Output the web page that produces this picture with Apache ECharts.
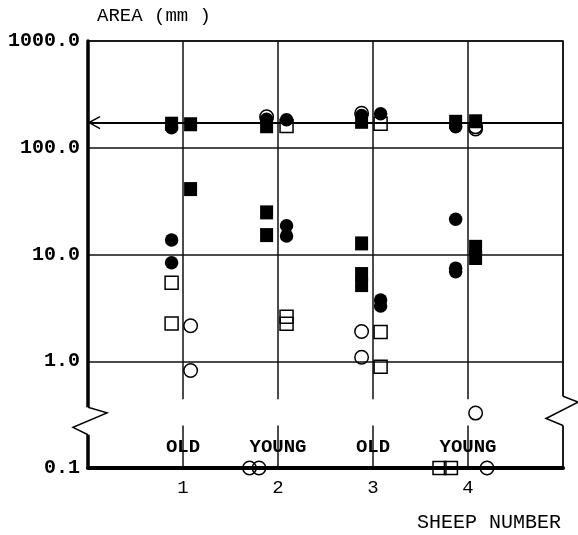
<!DOCTYPE html>
<html>
<head>
<meta charset="utf-8">
<title>Area by sheep number</title>
<script src="https://cdn.jsdelivr.net/npm/echarts@6/dist/echarts.min.js"></script>
<style>
  html, body { margin: 0; padding: 0; background: #fff; }
  #chart { width: 578px; height: 535px; }
</style>
</head>
<body>
<div id="chart"></div>
<script>
// sheep on the x axis, age group written above each
var sheepNumbers = [1, 2, 3, 4];
var ageGroups = ['OLD', 'YOUNG', 'OLD', 'YOUNG'];
var yTickLabels = ['0.1', '1.0', '10.0', '100.0', '1000.0'];
var arrowLevel = 172;

// [sheep position, area mm2]  (left group ~ -0.12, right group ~ +0.08)
var filledSquares = [
  [0.88, 168], [1.08, 166], [1.08, 41],
  [1.88, 159], [1.88, 24.8], [1.88, 15.2],
  [2.88, 175], [2.88, 12.7], [2.88, 6.56], [2.88, 5.17],
  [3.87, 175], [4.08, 177], [4.08, 11.8], [4.08, 9.27]
];
var filledCircles = [
  [0.88, 154], [0.88, 13.7], [0.88, 8.38],
  [1.88, 185], [2.09, 183], [2.09, 18.6], [2.09, 14.9],
  [2.88, 200], [3.08, 208], [3.08, 3.75], [3.08, 3.3],
  [3.87, 157], [3.87, 21.4], [3.87, 7.45], [3.87, 6.89]
];
var openSquares = [
  [0.88, 5.44], [0.88, 2.26],
  [2.09, 160], [2.09, 2.61], [2.09, 2.24],
  [3.08, 168], [3.08, 1.88], [3.08, 0.89],
  [3.70, 0.1], [3.82, 0.1]
];
var openCircles = [
  [1.08, 2.15], [1.08, 0.82],
  [1.88, 195], [1.70, 0.1], [1.80, 0.1],
  [2.88, 210], [2.88, 1.90], [2.88, 1.09],
  [4.08, 157], [4.08, 150], [4.08, 0.327], [4.20, 0.1]
];

// where the axis break zigzags sit (in area units)
var leftBreak = [0.37, 0.205];
var rightBreak = [0.47, 0.25];
var gapBand = [0.44, 0.25];

var FONT = '"Liberation Mono", "Courier New", monospace';
var chart = echarts.init(document.getElementById('chart'));

function markerSeries(name, data, symbol, size, filled) {
  return {
    name: name,
    type: 'scatter',
    data: data,
    symbol: symbol,
    symbolSize: size,
    clip: false,
    silent: true,
    itemStyle: filled
      ? { color: '#000', opacity: 1 }
      : { color: 'transparent', borderColor: '#000', borderWidth: 1.5, opacity: 1 }
  };
}

var series = [
  markerSeries('open circle', openCircles, 'circle', 13.5, false),
  markerSeries('open square', openSquares, 'rect', 13, false),
  markerSeries('filled square', filledSquares, 'rect', [13, 14], true),
  markerSeries('filled circle', filledCircles, 'circle', 13.5, true)
];
series[0].markLine = {
  silent: true,
  symbol: ['none', 'none'],
  label: { show: false },
  lineStyle: { type: 'solid', color: '#000', width: 2 },
  data: [{ yAxis: arrowLevel }]
};

var option = {
  animation: false,
  title: [{
    text: 'AREA (mm )',
    left: 97, top: 6, padding: 0,
    textStyle: { fontFamily: FONT, fontSize: 19, fontWeight: 'normal', color: '#000' }
  }, {
    text: 'SHEEP NUMBER',
    right: 17, top: 513, padding: 0,
    textStyle: { fontFamily: FONT, fontSize: 20, fontWeight: 'normal', color: '#000' }
  }],
  grid: {
    left: 88, right: 15, top: 41, bottom: 67,
    show: true, borderColor: '#000', borderWidth: 1.5
  },
  xAxis: [{
    type: 'value', min: 0, max: 5, interval: 1, position: 'bottom',
    axisLine: { show: true, onZero: false, lineStyle: { color: '#000', width: 4 } },
    axisTick: { show: false },
    splitLine: { show: true, lineStyle: { color: '#111', width: 1.5 } },
    axisLabel: {
      margin: 10, fontFamily: FONT, fontSize: 19, color: '#000',
      formatter: function (v) { return sheepNumbers.indexOf(v) >= 0 ? String(v) : ''; }
    }
  }, {
    type: 'value', min: 0, max: 5, interval: 1, position: 'bottom',
    axisLine: { show: false },
    axisTick: { show: false },
    splitLine: { show: false },
    axisLabel: {
      inside: true, margin: 11, fontFamily: FONT, fontSize: 19, fontWeight: 'bold', color: '#000',
      formatter: function (v) {
        var i = sheepNumbers.indexOf(v);
        return i >= 0 ? ageGroups[i] : '';
      }
    }
  }],
  yAxis: {
    type: 'log', logBase: 10, min: 0.1, max: 1000,
    axisLine: { show: true, lineStyle: { color: '#000', width: 3.5 } },
    axisTick: { show: false },
    splitLine: { show: true, lineStyle: { color: '#111', width: 1.5 } },
    axisLabel: {
      margin: 8, fontFamily: FONT, fontSize: 20, fontWeight: 'bold', color: '#000',
      formatter: function (v) { return yTickLabels[Math.round(Math.log10(v)) + 1]; }
    }
  },
  series: series
};

chart.setOption(option);

// axis breaks and the arrow head, placed from the axis scales
function px(x, y) { return chart.convertToPixel({ seriesIndex: 0 }, [x, y]); }

var lt = px(0, leftBreak[0]), lb = px(0, leftBreak[1]);
var rt = px(5, rightBreak[0]), rb = px(5, rightBreak[1]);
var gt = px(0, gapBand[0]), gb = px(5, gapBand[1]);
var tip = px(0, arrowLevel);
var lh = lb[1] - lt[1], rh = rb[1] - rt[1];

chart.setOption({
  graphic: [
    // gap in the vertical grid lines
    { type: 'rect', z: 1, silent: true,
      shape: { x: gt[0] + 3, y: gt[1], width: gb[0] - gt[0] - 5, height: gb[1] - gt[1] },
      style: { fill: '#fff' } },
    // left break
    { type: 'rect', z: 50, silent: true,
      shape: { x: lt[0] - 4, y: lt[1], width: 8, height: lh },
      style: { fill: '#fff' } },
    { type: 'polyline', z: 51, silent: true,
      shape: { points: [[lt[0], lt[1]], [lt[0] + 19, lt[1] + lh * 0.2], [lt[0] - 15, lt[1] + lh * 0.73], [lt[0], lb[1]]] },
      style: { stroke: '#000', lineWidth: 1.5, fill: null } },
    // right break
    { type: 'rect', z: 50, silent: true,
      shape: { x: rt[0] - 3, y: rt[1], width: 6, height: rh },
      style: { fill: '#fff' } },
    { type: 'polyline', z: 51, silent: true,
      shape: { points: [[rt[0], rt[1]], [rt[0] + 15, rt[1] + rh * 0.2], [rt[0] - 17, rt[1] + rh * 0.76], [rt[0], rb[1]]] },
      style: { stroke: '#000', lineWidth: 1.5, fill: null } },
    // arrow head on the reference line
    { type: 'polyline', z: 51, silent: true,
      shape: { points: [[tip[0] + 12, tip[1] - 6], [tip[0] + 1, tip[1]], [tip[0] + 12, tip[1] + 6]] },
      style: { stroke: '#000', lineWidth: 1.5, fill: null } }
  ]
});
</script>
</body>
</html>
